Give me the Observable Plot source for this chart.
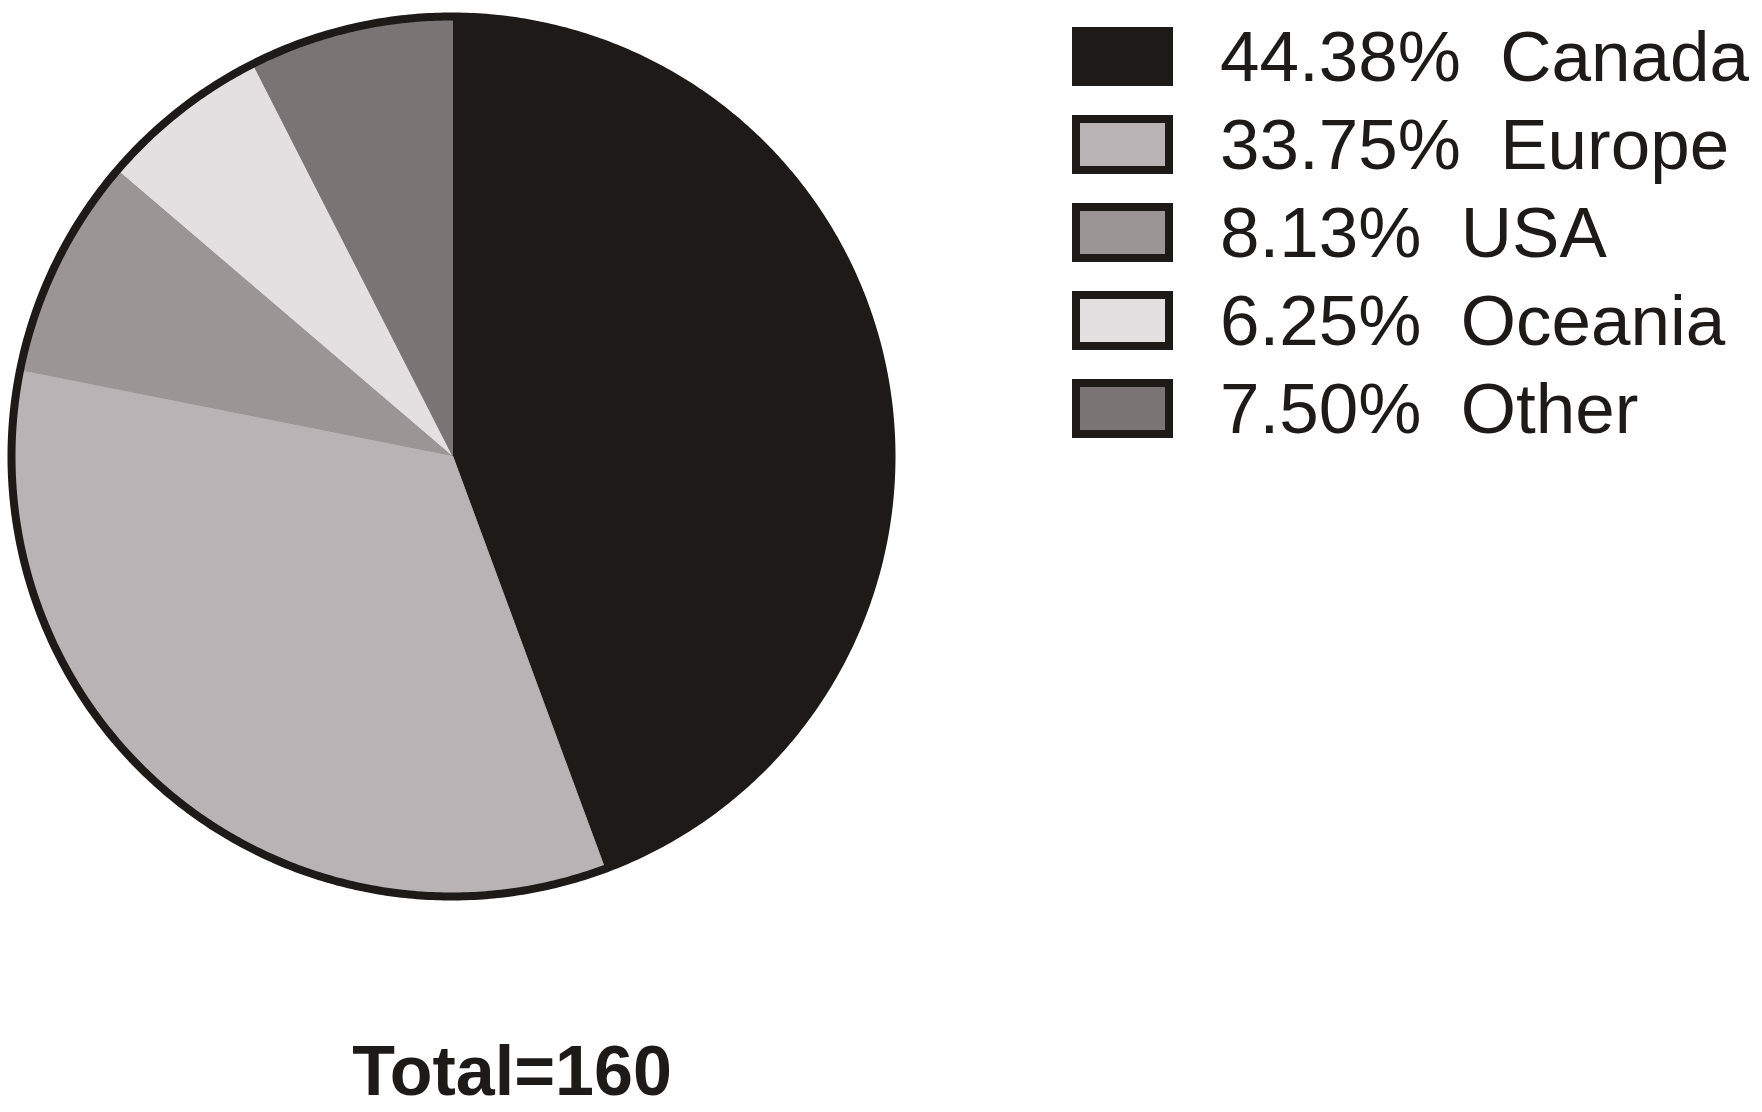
<!DOCTYPE html>
<html>
<head>
<meta charset="utf-8">
<script src="https://cdn.jsdelivr.net/npm/d3@7"></script>
<script src="https://cdn.jsdelivr.net/npm/@observablehq/plot@0.6"></script>
<style>
  html, body { margin: 0; padding: 0; background: #ffffff; }
  body { width: 1762px; height: 1112px; position: relative; overflow: hidden; font-family: "Liberation Sans", Arial, sans-serif; }
  #chart { position: absolute; left: 0; top: 0; }
  #legend { position: absolute; left: 1072px; top: 12px; }
  .row { display: flex; align-items: center; height: 88px; }
  .sw { width: 85px; height: 43px; border: 8px solid #1d1a17; flex: none; }
  .lab { margin-left: 47px; font-size: 71px; line-height: 1; color: #1d1a17; white-space: pre; }
  #caption { position: absolute; left: 312px; top: 1036px; width: 400px; text-align: center; font-size: 70px; font-weight: bold; line-height: 1; color: #1d1a17; }
</style>
</head>
<body>
<div id="chart"></div>
<div id="legend"></div>
<div id="caption"></div>
<script>
const names = ["Canada", "Europe", "USA", "Oceania", "Other"];
const percents = [44.38, 33.75, 8.13, 6.25, 7.50];
const colors = ["#1d1a17", "#bab3b5", "#9c9595", "#e4e0e1", "#7b7475"];
const total = 160;
const captionText = "Total=" + total;

// slices
const arcs = d3.pie().sort(null).value(d => d.value)(names.map((n, i) => ({name: n, value: percents[i]})));
const slicePts = [];
for (const a of arcs) {
  const name = a.data.name;
  slicePts.push({name, x: 0, y: 0});
  const n = Math.max(2, Math.ceil((a.endAngle - a.startAngle) / (Math.PI / 360)));
  for (let k = 0; k <= n; k++) {
    const t = a.startAngle + (a.endAngle - a.startAngle) * k / n;
    slicePts.push({name, x: Math.sin(t), y: Math.cos(t)});
  }
  slicePts.push({name, x: 0, y: 0});
}
const ring = d3.range(0, 721).map(k => ({x: Math.sin(k * Math.PI / 360), y: Math.cos(k * Math.PI / 360)}));

const plot = Plot.plot({
  width: 904,
  height: 910,
  marginLeft: 12, marginRight: 12, marginTop: 15, marginBottom: 15,
  x: {domain: [-1, 1], axis: null},
  y: {domain: [-1, 1], axis: null},
  color: {domain: names, range: colors},
  style: {background: "transparent"},
  marks: [
    Plot.line(slicePts, {x: "x", y: "y", z: "name", fill: "name", stroke: "name", strokeWidth: 1, curve: "linear"}),
    Plot.line(ring, {x: "x", y: "y", stroke: "#1d1a17", strokeWidth: 8, fill: "none", dx: -1, dy: 1})
  ]
});
document.getElementById("chart").appendChild(plot);

// legend
const legend = document.getElementById("legend");
names.forEach((n, i) => {
  const row = document.createElement("div");
  row.className = "row";
  const sw = document.createElement("div");
  sw.className = "sw";
  sw.style.background = colors[i];
  const lab = document.createElement("div");
  lab.className = "lab";
  lab.textContent = percents[i].toFixed(2) + "%  " + n;
  row.appendChild(sw);
  row.appendChild(lab);
  legend.appendChild(row);
});
document.getElementById("caption").textContent = captionText;
</script>
</body>
</html>
